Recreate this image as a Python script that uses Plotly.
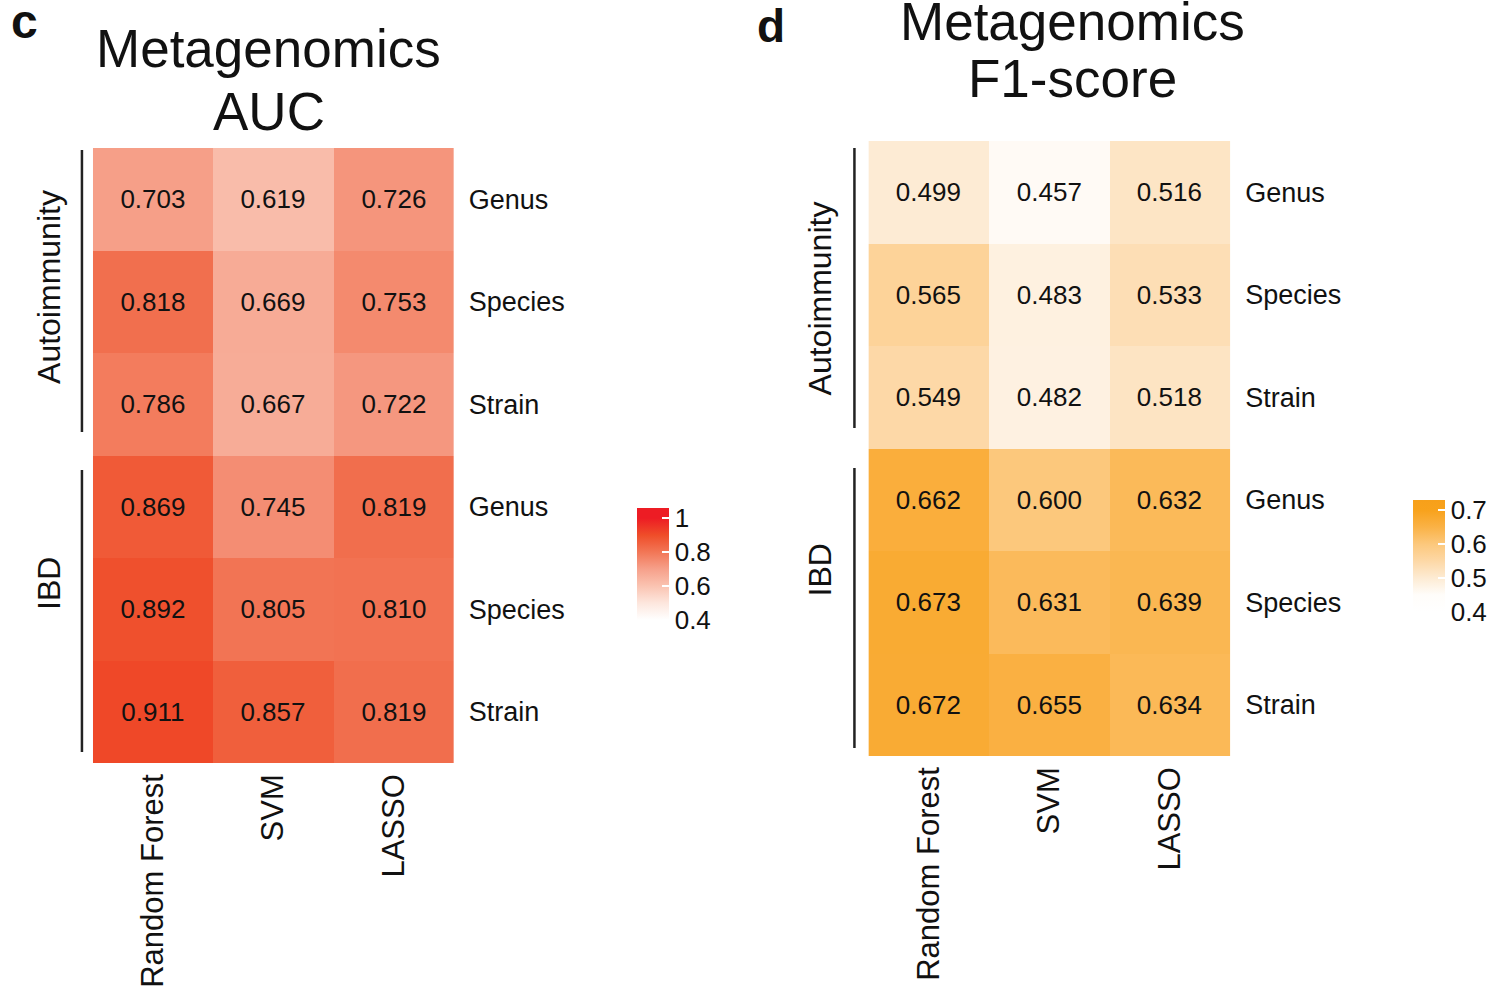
import plotly.graph_objects as go

# ---- data ----
methods = ["Random Forest", "SVM", "LASSO"]
groups = ["Autoimmunity", "IBD"]
levels = ["Genus", "Species", "Strain"]

auc_autoimmunity = [
    [0.703, 0.619, 0.726],
    [0.818, 0.669, 0.753],
    [0.786, 0.667, 0.722],
]
auc_ibd = [
    [0.869, 0.745, 0.819],
    [0.892, 0.805, 0.810],
    [0.911, 0.857, 0.819],
]
f1_autoimmunity = [
    [0.499, 0.457, 0.516],
    [0.565, 0.483, 0.533],
    [0.549, 0.482, 0.518],
]
f1_ibd = [
    [0.662, 0.600, 0.632],
    [0.673, 0.631, 0.639],
    [0.672, 0.655, 0.634],
]

auc_ticks = [0.4, 0.6, 0.8, 1.0]
auc_ticktext = ["0.4", "0.6", "0.8", "1"]
f1_ticks = [0.4, 0.5, 0.6, 0.7]
f1_ticktext = ["0.4", "0.5", "0.6", "0.7"]

# ---- page geometry ----
W, H = 1493, 989
FONT = "Liberation Sans, Arial, Helvetica, sans-serif"


def px(x):
    return x / W


def py(y):
    return 1 - y / H


def scale(stops, lo, hi):
    out = []
    for v, c in stops:
        out.append([(v - lo) / (hi - lo), c])
    out[0][0] = 0.0
    out[-1][0] = 1.0
    return out


# colour ramps (value, colour); bar range runs a little past the labelled limits
AUC_LO, AUC_HI = 0.34, 1.06
F1_LO, F1_HI = 0.37, 0.73
auc_stops = [
    (0.34, "#FFFFFF"), (0.40, "#FFFFFF"), (0.50, "#FDE6DD"), (0.60, "#FAC3B1"),
    (0.70, "#F6A08A"), (0.80, "#F27656"), (0.90, "#EF4D29"), (1.00, "#ED1C24"),
    (1.06, "#ED1C24"),
]
f1_stops = [
    (0.37, "#FFFFFF"), (0.40, "#FFFFFF"), (0.45, "#FFFDFA"), (0.50, "#FDEBD3"),
    (0.55, "#FDD8A6"), (0.60, "#FCC87C"), (0.65, "#FAB246"), (0.70, "#F8A21C"),
    (0.73, "#F7A01A"),
]

rows_text = levels + levels
row_idx = list(range(len(rows_text)))

fig = go.Figure()


def add_panel(z, xa, ya, cs, lo, hi, ticks, ticktext, cb_x, cb_top):
    cb_len = 122
    fig.add_trace(go.Heatmap(
        z=z, x=methods, y=row_idx, xaxis=xa, yaxis=ya,
        colorscale=cs, zmin=lo, zmax=hi,
        texttemplate="%{z:.3f}",
        textfont=dict(family=FONT, size=26, color="#111111"),
        xgap=0, ygap=0, hoverinfo="skip",
        colorbar=dict(
            x=px(cb_x), xanchor="left", xpad=0,
            y=py(cb_top + cb_len / 2), yanchor="middle", ypad=0,
            len=cb_len, lenmode="pixels",
            thickness=32, thicknessmode="pixels",
            outlinewidth=0,
            tickvals=ticks, ticktext=ticktext,
            ticks="inside", ticklen=7, tickwidth=2, tickcolor="white",
            tickfont=dict(family=FONT, size=26, color="#111111"),
        ),
    ))
    # mirrored white tick marks on the left edge of the colour bar
    for t in ticks:
        yy = cb_top + cb_len * (hi - t) / (hi - lo)
        fig.add_shape(type="line", xref="paper", yref="paper",
                      x0=px(cb_x), x1=px(cb_x + 7), y0=py(yy), y1=py(yy),
                      line=dict(color="white", width=2), layer="above")


add_panel(auc_autoimmunity + auc_ibd, "x", "y", scale(auc_stops, AUC_LO, AUC_HI),
          AUC_LO, AUC_HI, auc_ticks, auc_ticktext, 637, 508)
add_panel(f1_autoimmunity + f1_ibd, "x2", "y2", scale(f1_stops, F1_LO, F1_HI),
          F1_LO, F1_HI, f1_ticks, f1_ticktext, 1413, 500)

xaxis_common = dict(
    showgrid=False, zeroline=False, showline=False, ticks="",
    tickangle=-90, tickfont=dict(family=FONT, size=31, color="#111111"),
    ticklabelstandoff=4,
)
yaxis_common = dict(
    showgrid=False, zeroline=False, showline=False, ticks="",
    side="right", autorange="reversed",
    tickvals=row_idx, ticktext=rows_text,
    tickfont=dict(family=FONT, size=27, color="#111111"),
    ticklabelstandoff=14,
)

fig.update_layout(
    width=W, height=H,
    margin=dict(l=0, r=0, t=0, b=0),
    paper_bgcolor="white", plot_bgcolor="white",
    font=dict(family=FONT, color="#111111"),
    xaxis=dict(domain=[px(93), px(454)], anchor="y", **xaxis_common),
    yaxis=dict(domain=[py(763), py(148)], anchor="x", **yaxis_common),
    xaxis2=dict(domain=[px(869), px(1231)], anchor="y2", **xaxis_common),
    yaxis2=dict(domain=[py(756), py(141)], anchor="x2", **yaxis_common),
)

annotations = []


def label(text, x, y, size, bold=False, angle=0):
    annotations.append(dict(
        text=f"<b>{text}</b>" if bold else text,
        x=px(x), y=py(y), xref="paper", yref="paper",
        xanchor="center", yanchor="middle", showarrow=False,
        textangle=angle,
        font=dict(family=FONT, size=size, color="#111111"),
    ))


# panel letters and titles
label("c", 25, 21, 48, bold=True)
label("d", 772, 26, 46, bold=True)
label("Metagenomics", 269, 49, 53)
label("AUC", 269, 112, 53)
label("Metagenomics", 1073, 21, 53)
label("F1-score", 1073, 78, 53)

# group labels on the left of each heatmap
label(groups[0], 49, 287, 32, angle=-90)
label(groups[1], 49, 583, 32, angle=-90)
label(groups[0], 821, 298, 32, angle=-90)
label(groups[1], 821, 570, 32, angle=-90)

fig.update_layout(annotations=annotations)

# group brackets
for x, y0, y1 in [(82, 150, 432), (82, 470, 752), (855, 148, 428), (855, 468, 748)]:
    fig.add_shape(type="line", xref="paper", yref="paper",
                  x0=px(x), x1=px(x), y0=py(y0), y1=py(y1),
                  line=dict(color="#222222", width=2.5))

fig.write_html("out.html")
